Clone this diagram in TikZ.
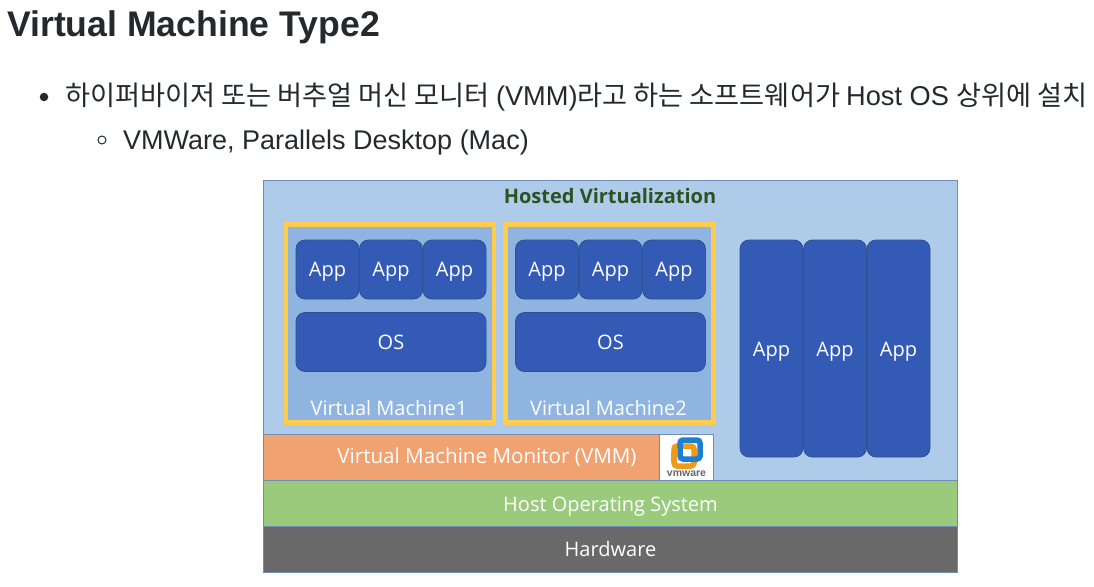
\documentclass[tikz,border=0pt]{standalone}
\usepackage{fontspec}
\setmainfont{Liberation Sans}
\newfontfamily\cjk{Noto Sans CJK KR}
\newfontfamily\dgm{Open Sans}
\definecolor{ink}{HTML}{24292E}
\definecolor{skyb}{HTML}{AECCE9}
\definecolor{vmb}{HTML}{8FB4E0}
\definecolor{appb}{HTML}{335AB5}
\definecolor{appe}{HTML}{2F528F}
\definecolor{gold}{HTML}{FFCC4D}
\definecolor{orng}{HTML}{F0A271}
\definecolor{grn}{HTML}{9ACB7C}
\definecolor{gry}{HTML}{696969}
\definecolor{edge}{HTML}{6F8DBB}
\definecolor{hgreen}{HTML}{2F5020}
\definecolor{logob}{HTML}{1C7FD0}
\definecolor{logoo}{HTML}{F09A1A}
\tikzset{
 wh/.style 2 args={minimum width=#1pt,minimum height=#2pt},
 box/.style={anchor=north west,inner sep=0pt,outer sep=0pt,text=white,align=center,font=\dgm\fontsize{20}{24}\selectfont},
 appbox/.style={box,draw=appe,line width=0.8pt,fill=appb,rounded corners=9pt},
 lowa/.style={text height=14pt,text depth=0pt},
 lowb/.style={text height=16pt,text depth=0pt},
 vmbox/.style={anchor=north west,inner sep=0pt,outer sep=0pt,draw=gold,line width=4.2pt,fill=vmb},
 layer/.style={box,draw=edge,line width=0.8pt},
 captext/.style={text=white,font=\dgm\fontsize{20}{24}\selectfont,inner sep=0pt},
 txt/.style={anchor=base west,inner sep=0pt,text=ink,font=\fontsize{27.2}{30}\selectfont},
}
\begin{document}
\begin{tikzpicture}[x=1pt,y=-1pt]
\useasboundingbox (0,0) rectangle (1094,586);
\fill[white] (0,0) rectangle (1094,586);
\node[txt,font=\bfseries\fontsize{35.6}{40}\selectfont] (title) at (7,37) {Virtual Machine Type2};
\node[circle,fill=ink,inner sep=0pt,minimum size=8.5pt] (b1) at (44,97) {};
\node[txt] (l1) at (65,105) {\cjk 하이퍼바이저 또는 버추얼 머신 모니터 \rmfamily (VMM)\cjk 라고 하는 소프트웨어가 \rmfamily Host OS \cjk 상위에 설치};
\node[circle,draw=ink,line width=1pt,inner sep=0pt,minimum size=8pt] (b2) at (102,140) {};
\node[txt,font=\fontsize{27}{30}\selectfont] (l2) at (123,149) {VMWare, Parallels Desktop (Mac)};
% outer
\node[layer,fill=skyb,wh={694}{300}] (outer) at (263.5,180) {};
\node[font=\dgm\bfseries\fontsize{20}{24}\selectfont,text=hgreen,inner sep=0pt] (ht) at (610,196) {Hosted Virtualization};
% vm frames
\node[vmbox,wh={208}{198}] (vm1) at (286,224.5) {};
\node[vmbox,wh={208}{198}] (vm2) at (505.5,224.5) {};
\foreach \n/\x in {a/296,b/359.5,c/423}{
 \node[appbox,lowa,wh={63}{59}] (v1\n) at (\x,240) {App};
}
\foreach \n/\x in {a/515.5,b/579,c/642.5}{
 \node[appbox,lowa,wh={63}{59}] (v2\n) at (\x,240) {App};
}
\node[appbox,wh={190}{59}] (os1) at (296,312.5) {OS};
\node[appbox,wh={190}{59}] (os2) at (515.5,312.5) {OS};
\node[captext] (c1) at (389,408) {Virtual Machine1};
\node[captext] (c2) at (608.5,408) {Virtual Machine2};
\foreach \n/\x in {a/740,b/803.5,c/867}{
 \node[appbox,lowb,wh={63}{217}] (h\n) at (\x,240) {App};
}
% layers
\node[layer,fill=orng,wh={396}{46}] (vmm) at (263.5,434) {};
\node[captext,font=\dgm\fontsize{20.6}{24}\selectfont] (vmmt) at (487,457.5) {Virtual Machine Monitor (VMM)};
\node[anchor=north west,inner sep=0pt,outer sep=0pt,draw=edge,line width=0.8pt,fill=white,wh={54}{46}] (logo) at (659.5,434) {};
\draw[line width=5.5pt,draw=logoo,rounded corners=3pt] (674,446) rectangle (694,466);
\draw[line width=5.5pt,draw=logob,rounded corners=3pt] (680,440) rectangle (700,459);
\draw[line width=5.5pt,draw=logoo] (674,452) -- (674,462);
\node[inner sep=0pt,text=black!60,font=\bfseries\fontsize{10.5}{11}\selectfont] (vw) at (686.5,473.5) {vmware};
\node[layer,lowb,fill=grn,wh={694}{46}] (hos) at (263.5,480) {Host Operating System};
\node[layer,fill=gry,wh={694}{46}] (hw) at (263.5,526) {Hardware};
\end{tikzpicture}
\end{document}
